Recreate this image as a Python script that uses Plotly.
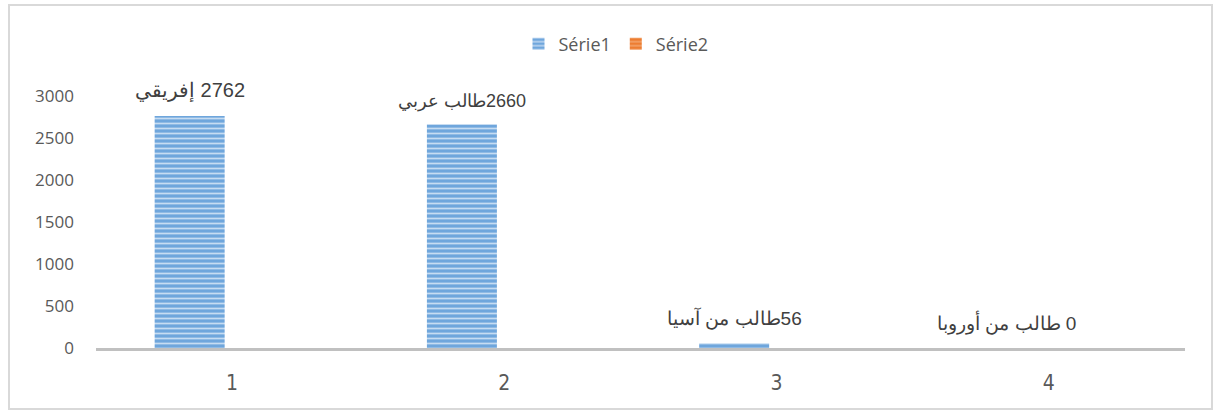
import plotly.graph_objects as go

categories = ["1", "2", "3", "4"]
serie1 = [2762, 2660, 56, 0]
serie2 = [0, 0, 0, 0]
label_words = ["إفريقي", "طالب عربي", "طالب من آسيا", "طالب من أوروبا"]
label_seps = [" ", "", "", " "]
label_sizes = [20, 18, 19, 19]
y_ticks = [0, 500, 1000, 1500, 2000, 2500, 3000]

LRM = "\u200E"
texts = [f"{w}{LRM}{s}{v}" for w, s, v in zip(label_words, label_seps, serie1)]

W, H = 1218, 412
ML, MR, MT, MB = 96, 33, 96, 64
BARGAP, BARGROUPGAP = 0.376, 0.176
plot_w = W - ML - MR
plot_h = H - MT - MB
cat_w = plot_w / len(categories)
slot_w = cat_w * (1 - BARGAP) / 2
label_xshift = -slot_w / 2

fig = go.Figure()
fig.add_trace(go.Bar(
    x=categories, y=serie1, name="Série1",
    marker=dict(color="#6FA6DC", line=dict(width=0),
                pattern=dict(shape="-", fgcolor="#C6DCF2", bgcolor="#6FA6DC",
                             size=5, solidity=0.35, fillmode="replace")),
))
fig.add_trace(go.Bar(
    x=categories, y=serie2, name="Série2",
    marker=dict(color="#ED7D31", line=dict(width=0),
                pattern=dict(shape="-", fgcolor="#F4A873", bgcolor="#ED7D31",
                             size=5, solidity=0.35, fillmode="replace")),
))

annotations = []
for i, (v, t, fs) in enumerate(zip(serie1, texts, label_sizes)):
    annotations.append(dict(
        x=i, y=v, xref="x", yref="y", text=t, showarrow=False,
        xanchor="center", yanchor="bottom", xshift=label_xshift, yshift=11,
        font=dict(family="Liberation Sans, Arial, sans-serif", size=fs, color="#404040"),
    ))


def px_x(px):
    return (px - ML) / plot_w


def px_y(py):
    return (H - MB - py) / plot_h


fig.update_layout(
    width=W, height=H,
    margin=dict(l=ML, r=MR, t=MT, b=MB),
    paper_bgcolor="white", plot_bgcolor="white",
    barmode="group", bargap=BARGAP, bargroupgap=BARGROUPGAP,
    showlegend=True,
    legend=dict(orientation="h", x=px_x(616), xanchor="center", y=px_y(44), yanchor="middle",
                font=dict(family="Open Sans, Noto Sans, sans-serif", size=18, color="#595959"),
                itemwidth=30, traceorder="normal"),
    xaxis=dict(type="category", range=[-0.5, len(categories) - 0.5],
               showgrid=False, zeroline=False,
               showline=True, linecolor="#C0C0C0", linewidth=3,
               ticks="", ticklabelstandoff=14,
               tickfont=dict(family="Liberation Sans Narrow, DejaVu Sans Condensed, Arial Narrow, sans-serif",
                             size=21, color="#595959")),
    yaxis=dict(range=[0, 3000], tickvals=y_ticks, showgrid=False, zeroline=False,
               showline=False, ticks="", ticklabelstandoff=21,
               tickfont=dict(family="Open Sans, Noto Sans, sans-serif", size=17, color="#595959")),
    annotations=annotations,
    shapes=[dict(type="rect", xref="paper", yref="paper",
                 x0=px_x(9), x1=px_x(1212),
                 y0=px_y(409), y1=px_y(5),
                 line=dict(color="#D9D9D9", width=2), fillcolor="rgba(0,0,0,0)", layer="below")],
)

fig.write_html("out.html", config={"displayModeBar": False},
               post_script="document.body.style.margin='0';document.body.style.overflow='hidden';")
